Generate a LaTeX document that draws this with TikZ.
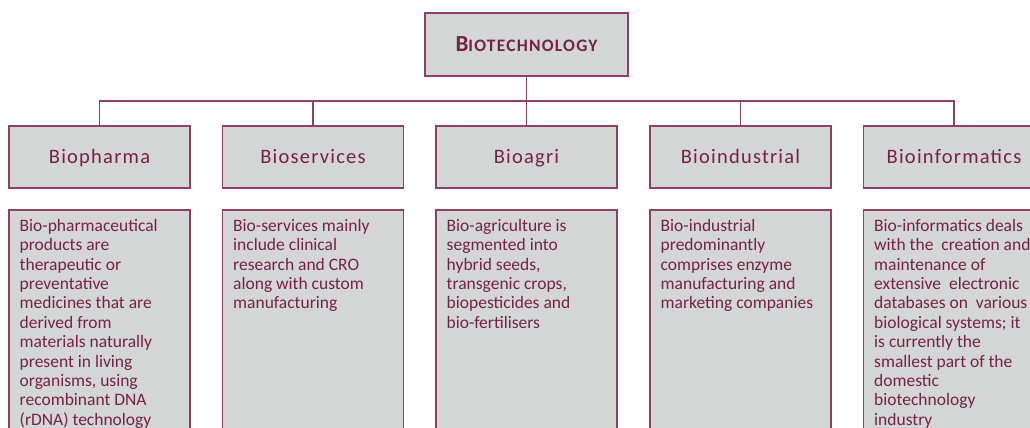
\documentclass[tikz,border=0pt]{standalone}
\usepackage{fontspec}
\setmainfont{Carlito}
\definecolor{txt}{RGB}{115,35,70}
\definecolor{bord}{RGB}{140,66,100}
\definecolor{boxfill}{RGB}{212,213,213}
\tikzset{
  boxstyle/.style={draw=bord, line width=1.3pt, fill=boxfill},
  hdr/.style={boxstyle, minimum width=181pt, minimum height=62pt, inner sep=0pt, text height=16pt, text depth=3pt, text=txt, font=\fontsize{20.5}{20.5}\selectfont\addfontfeature{LetterSpace=6}},
  body/.style={anchor=base west, align=left, inner sep=0pt, text=txt, font=\fontsize{17.5}{19.4}\selectfont},
  conn/.style={draw=bord, line width=1.3pt}
}
\begin{document}
\begin{tikzpicture}[x=1pt,y=-1pt]
\useasboundingbox (0,0) rectangle (1030,428);
\clip (0,0) rectangle (1030,428);
% title
\node[boxstyle, minimum width=203pt, minimum height=63pt, inner sep=0pt, text=txt] (title) at (526.5,44.5)
  {\bfseries\addfontfeature{LetterSpace=7}{\fontsize{23}{23}\selectfont B}{\fontsize{17.5}{17.5}\selectfont IOTECHNOLOGY}};
% headers
\node[hdr] (h1) at (99.5,157) {Biopharma};
\node[hdr] (h2) at (313,157) {Bioservices};
\node[hdr] (h3) at (526.5,157) {Bioagri};
\node[hdr] (h4) at (740.5,157) {Bioindustrial};
\node[hdr] (h5) at (954,157) {Bioinformatics};
% bus
\coordinate (bus) at (526.5,101);
\draw[conn] (title.south) -- (bus);
\draw[conn] (h1.north) |- (bus) -| (h5.north);
\draw[conn] (h2.north) -- (h2.north |- bus);
\draw[conn] (h3.north) -- (h3.north |- bus);
\draw[conn] (h4.north) -- (h4.north |- bus);
% description boxes
\foreach \i/\x in {1/9,2/222.5,3/436,4/650,5/863.5}{
  \draw[boxstyle] (\x,210) rectangle ++(181,240);
}
% body texts (anchored at the baseline of their last line)
\node[body] (t1) at (19.5,425.3) {Bio-pharmaceutical\\products are\\therapeutic or\\preventative\\medicines that are\\derived from\\materials naturally\\present in living\\organisms, using\\recombinant DNA\\(rDNA) technology};
\node[body] (t2) at (233,308.9) {Bio-services mainly\\include clinical\\research and CRO\\along with custom\\manufacturing};
\node[body] (t3) at (446.5,328.3) {Bio-agriculture is\\segmented into\\hybrid seeds,\\transgenic crops,\\biopesticides and\\bio-fertilisers};
\node[body] (t4) at (660.5,308.9) {Bio-industrial\\predominantly\\comprises enzyme\\manufacturing and\\marketing companies};
\node[body] (t5) at (874,425.3) {Bio-informatics deals\\with the\ \ creation and\\maintenance of\\extensive\ \ electronic\\databases on\ \ various\\biological systems; it\\is currently the\\smallest part of the\\domestic\\biotechnology\\industry};
\end{tikzpicture}
\end{document}
